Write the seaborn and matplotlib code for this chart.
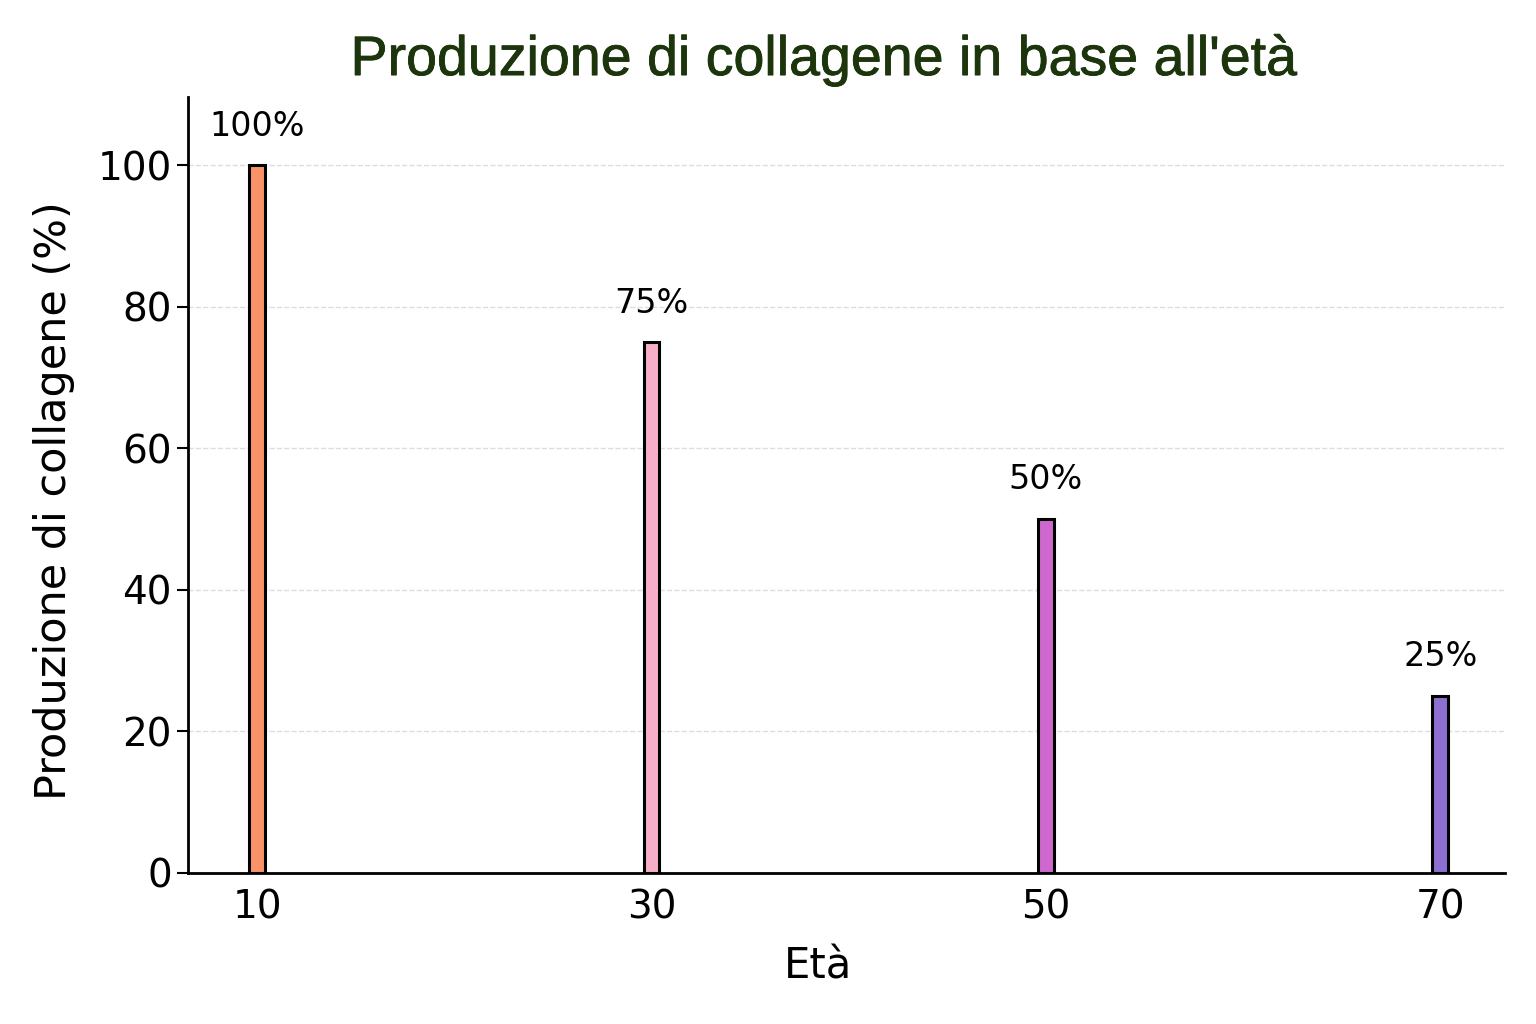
import pandas as pd
import seaborn as sns
import matplotlib.pyplot as plt
import matplotlib.patheffects as pe

ages = [10, 30, 50, 70]
collagen = [100, 75, 50, 25]
bar_colors = ['#FA9468', '#F7AFC9', '#CE68CE', '#8C6FD0']

df = pd.DataFrame({'eta': ages, 'collagene': collagen, 'gruppo': [str(a) for a in ages]})

sns.set_style('white')
plt.rcParams['font.family'] = ['DejaVu Sans']
plt.rcParams['text.color'] = 'black'
plt.rcParams['axes.labelcolor'] = 'black'
plt.rcParams['xtick.color'] = 'black'
plt.rcParams['ytick.color'] = 'black'

fig, ax = plt.subplots(figsize=(15.36, 10.24), dpi=100)
fig.subplots_adjust(left=0.1224, right=0.98, top=0.905, bottom=0.1475)

sns.barplot(data=df, x='eta', y='collagene', hue='gruppo',
            palette=dict(zip(df['gruppo'], bar_colors)), saturation=1,
            native_scale=True, width=0.04, edgecolor='black', linewidth=2.2,
            legend=False, ax=ax)

for a, v in zip(ages, collagen):
    ax.text(a, v + 3.2, f'{v}%', ha='center', va='bottom', fontsize=24, color='black')

ax.set_xlim(6.5, 73.3)
ax.set_ylim(0, 109.6)
ax.set_xticks(ages)
ax.set_yticks([0, 20, 40, 60, 80, 100])
ax.tick_params(axis='x', length=0, labelsize=28, pad=11)
ax.tick_params(axis='y', length=8, width=1.5, labelsize=28, left=True)
ax.yaxis.grid(True, linestyle='--', color='#dddddd', linewidth=1)
ax.set_axisbelow(True)
sns.despine(ax=ax)
for s in ['left', 'bottom']:
    ax.spines[s].set_linewidth(2)
    ax.spines[s].set_color('black')

ax.set_xlabel('Età', fontsize=30, labelpad=14, x=0.478)
ax.set_ylabel('Produzione di collagene (%)', fontsize=31, labelpad=16, y=0.48)
ax.set_title("Produzione di collagene in base all'età", fontsize=40,
             family='Liberation Sans', color='#1c350c', pad=16, x=0.4825,
             path_effects=[pe.withStroke(linewidth=0.6, foreground='#1c350c')])

fig.savefig('out.png', dpi=100)
